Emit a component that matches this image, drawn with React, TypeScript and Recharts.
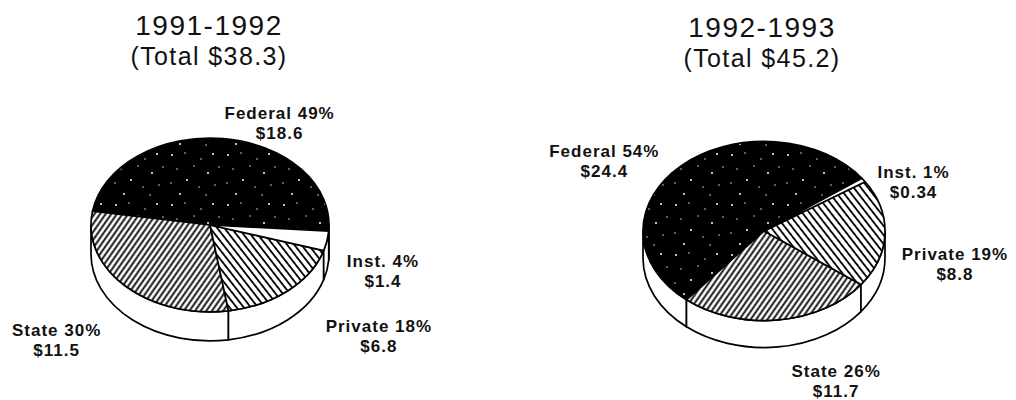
import React from 'react';
import { PieChart, Pie } from 'recharts';

// funding sources, same order in both years
const SOURCES = ['Federal', 'State', 'Private', 'Inst.'];
const YEARS = ['1991-1992', '1992-1993'];
const TOTALS = ['$38.3', '$45.2'];

// amounts in millions, as printed under each label
const AMOUNTS_9192 = [18.6, 11.5, 6.8, 1.4];
const AMOUNTS_9293 = [24.4, 11.7, 8.8, 0.34];

// percentages as printed
const SHARES_9192 = [49, 30, 18, 4];
const SHARES_9293 = [54, 26, 19, 1];

const FILLS = ['url(#speckle)', 'url(#hatchState)', 'url(#hatchPrivate)', '#ffffff'];
const FONT = '"Liberation Sans", Arial, Helvetica, sans-serif';
const RAD = Math.PI / 180;

const buildData = (amounts: number[], shares: number[]) =>
  SOURCES.map((name, i) => ({ name, value: amounts[i], share: shares[i] }));

// layout of the two tilted pies
const PIES = [
  {
    key: 'p1',
    data: buildData(AMOUNTS_9192, SHARES_9192),
    cx: 210, cy: 225, r: 119, tilt: 0.73, depth: 29,
    startAngle: -4,
    titleX: 209, titleY: 35,
    labelNudge: [[56, -20], [-69, 50], [91, 41], [56, 26]],
  },
  {
    key: 'p2',
    data: buildData(AMOUNTS_9293, SHARES_9293),
    cx: 764, cy: 231, r: 121, tilt: 0.74, depth: 27,
    startAngle: 36,
    titleX: 762, titleY: 37,
    labelNudge: [[-77, -9], [58, 57], [70, 26], [50, -2]],
  },
];

type Cfg = (typeof PIES)[number];

function makeLabel(cfg: Cfg) {
  return (props: any) => {
    const { cx, cy, outerRadius, startAngle, endAngle, midAngle, index } = props;
    const rx = outerRadius;
    const ry = outerRadius * cfg.tilt;
    const d = cfg.depth;
    const pt = (a: number, dy = 0) => [cx + rx * Math.cos(a * RAD), cy - ry * Math.sin(a * RAD) + dy];
    const a1 = Math.min(startAngle, endAngle);
    const a2 = Math.max(startAngle, endAngle);

    // visible rim: the part of the slice that lies in the front half (180..360)
    const sides: string[] = [];
    for (const k of [-1, 0, 1]) {
      const lo = Math.max(a1 + 360 * k, 180);
      const hi = Math.min(a2 + 360 * k, 360);
      if (hi - lo > 0.05) {
        const [x1, y1] = pt(lo);
        const [x2, y2] = pt(hi);
        sides.push(
          `M${x1},${y1} A${rx},${ry} 0 0 0 ${x2},${y2} L${x2},${y2 + d} A${rx},${ry} 0 0 1 ${x1},${y1 + d} Z`
        );
      }
    }

    const [sx, sy] = pt(a1);
    const [ex, ey] = pt(a2);
    const large = a2 - a1 > 180 ? 1 : 0;
    const top = `M${cx},${cy} L${sx},${sy} A${rx},${ry} 0 ${large} 0 ${ex},${ey} Z`;

    const [mx, my] = pt(midAngle);
    const [nx, ny] = cfg.labelNudge[index];
    const lx = mx + nx;
    const ly = my + ny;
    const entry = cfg.data[index];

    return (
      <g key={`lbl-${cfg.key}-${index}`}>
        {sides.map((p, i) => (
          <path key={i} d={p} fill="#fff" stroke="#000" strokeWidth={1.7} strokeLinejoin="round" />
        ))}
        <path d={top} fill={FILLS[index]} stroke="#000" strokeWidth={1.7} strokeLinejoin="round" />
        <text x={lx} y={ly} textAnchor="middle" fontFamily={FONT} fontSize={17} fontWeight={700} letterSpacing={1} fill="#111">
          {`${entry.name} ${entry.share}%`}
        </text>
        <text x={lx} y={ly + 20} textAnchor="middle" fontFamily={FONT} fontSize={17} fontWeight={700} letterSpacing={1} fill="#111">
          {`$${entry.value}`}
        </text>
      </g>
    );
  };
}

// scattered white flecks on the black federal slice
const SPECKS = [
  [4, 5], [17, 3], [33, 9], [45, 4], [9, 19], [26, 16], [40, 23], [51, 17], [3, 33], [19, 30], [31, 37], [47, 35], [12, 44], [38, 45],
];

export default function App() {
  return (
    <div style={{ position: 'absolute', left: 0, top: 0, width: 1016, height: 400, background: '#fff' }}>
      <svg width={0} height={0} style={{ position: 'absolute' }}>
        <defs>
          <pattern id="speckle" width="56" height="50" patternUnits="userSpaceOnUse">
            <rect width="56" height="50" fill="#000" />
            {SPECKS.map(([x, y], i) => (
              <circle key={i} cx={x} cy={y} r={i % 3 === 0 ? 1 : 0.7} fill="#fff" />
            ))}
          </pattern>
          <pattern id="hatchState" width="4.6" height="10" patternUnits="userSpaceOnUse" patternTransform="rotate(35)">
            <rect width="4.6" height="10" fill="#fff" />
            <line x1="2.3" y1="0" x2="2.3" y2="10" stroke="#000" strokeWidth="1.8" />
          </pattern>
          <pattern id="hatchPrivate" width="5.6" height="10" patternUnits="userSpaceOnUse" patternTransform="rotate(-38)">
            <rect width="5.6" height="10" fill="#fff" />
            <line x1="2.8" y1="0" x2="2.8" y2="10" stroke="#000" strokeWidth="1.8" />
          </pattern>
        </defs>
      </svg>
      <PieChart width={1016} height={400} margin={{ top: 0, right: 0, bottom: 0, left: 0 }}>
        {PIES.map((cfg) => (
          <Pie
            key={cfg.key}
            data={cfg.data}
            dataKey="value"
            nameKey="name"
            cx={cfg.cx}
            cy={cfg.cy}
            outerRadius={cfg.r}
            startAngle={cfg.startAngle}
            endAngle={cfg.startAngle + 360}
            fill="none"
            stroke="none"
            labelLine={false}
            label={makeLabel(cfg)}
            isAnimationActive={false}
          />
        ))}
      </PieChart>
      <svg width={1016} height={400} style={{ position: 'absolute', left: 0, top: 0, pointerEvents: 'none' }}>
        {PIES.map((cfg, i) => (
          <g key={cfg.key} fontFamily={FONT} fill="#111" textAnchor="middle">
            <text x={cfg.titleX} y={cfg.titleY} fontSize={28} letterSpacing={1.5}>{YEARS[i]}</text>
            <text x={cfg.titleX} y={cfg.titleY + 30} fontSize={25} letterSpacing={1.4}>{`(Total ${TOTALS[i]})`}</text>
          </g>
        ))}
      </svg>
    </div>
  );
}
